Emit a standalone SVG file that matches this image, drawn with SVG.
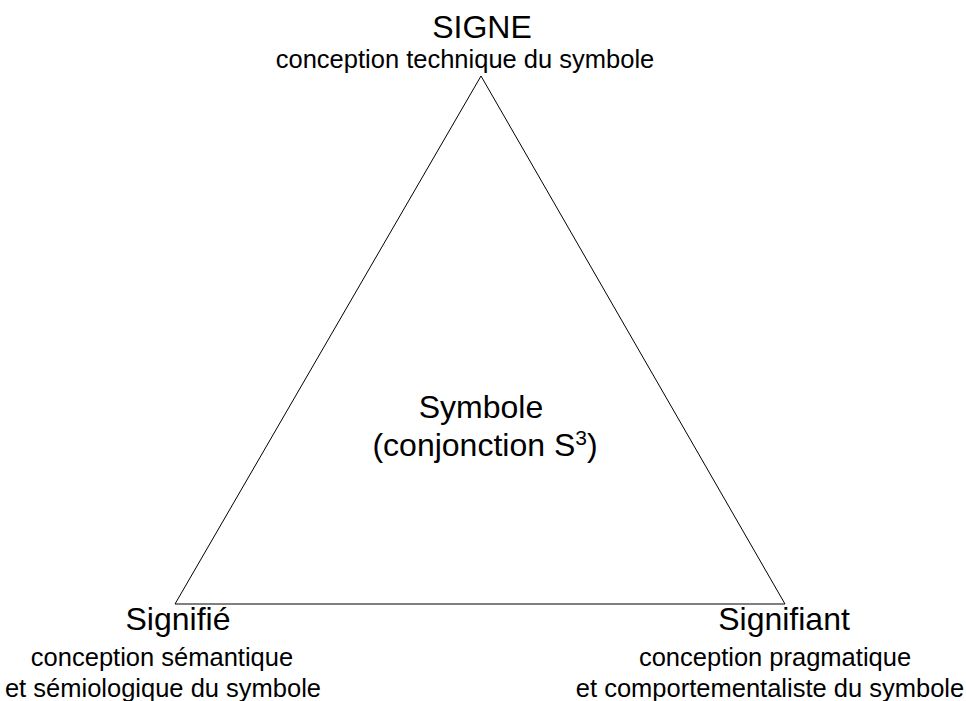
<svg xmlns="http://www.w3.org/2000/svg" width="966" height="701" viewBox="0 0 966 701">
  <style>
    text { font-family: "Liberation Sans", Arial, sans-serif; fill: #000; text-anchor: middle; }
    .title { font-size: 32px; }
    .sub { font-size: 25.5px; }
    .edge { fill: none; stroke: #000; stroke-width: 1; }
  </style>
  <rect width="966" height="701" fill="#fff"/>
  <g id="connectors">
    <polygon class="edge" points="481,76 175,604 785,604"/>
  </g>
  <g id="signe">
    <text class="title" x="482" y="38">SIGNE</text>
    <text class="sub" x="465" y="68">conception technique du symbole</text>
  </g>
  <g id="symbole">
    <text class="title" x="481" y="418">Symbole</text>
    <text class="title" x="485" y="456">(conjonction S<tspan font-size="21" dy="-11">3</tspan><tspan dy="11">)</tspan></text>
  </g>
  <g id="signifie">
    <text class="title" x="178" y="630">Signifié</text>
    <text class="sub" x="162" y="666">conception sémantique</text>
    <text class="sub" x="163" y="697">et sémiologique du symbole</text>
  </g>
  <g id="signifiant">
    <text class="title" x="784" y="630">Signifiant</text>
    <text class="sub" x="775" y="666">conception pragmatique</text>
    <text class="sub" x="770" y="697">et comportementaliste du symbole</text>
  </g>
</svg>
